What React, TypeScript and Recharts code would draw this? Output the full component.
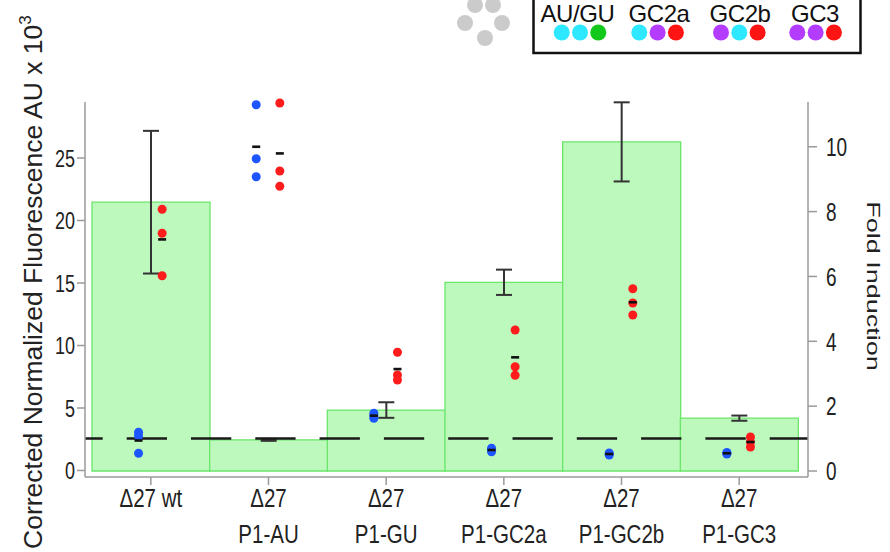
import React from "react";
import { ComposedChart, Bar, ErrorBar, Scatter, XAxis, YAxis, ReferenceLine } from "recharts";

const categories = ["Δ27 wt", "Δ27 P1-AU", "Δ27 P1-GU", "Δ27 P1-GC2a", "Δ27 P1-GC2b", "Δ27 P1-GC3"];
const tickLines = [
  ["Δ27 wt"],
  ["Δ27", "P1-AU"],
  ["Δ27", "P1-GU"],
  ["Δ27", "P1-GC2a"],
  ["Δ27", "P1-GC2b"],
  ["Δ27", "P1-GC3"],
];

// fold induction (right axis), bars + sd
const foldInduction = [8.29, 0.96, 1.88, 5.82, 10.15, 1.63];
const foldSd = [2.2, 0.03, 0.24, 0.39, 1.22, 0.08];

// replicate fluorescence, AU x 10^3 (left axis)
const bluePoints = [
  [3.06, 2.76, 1.38],
  [29.26, 24.94, 23.5],
  [4.58, 4.4, 4.18],
  [1.78, 1.64, 1.5],
  [1.4, 1.32, 1.24],
  [1.44, 1.38, 1.32],
];
const redPoints = [
  [20.9, 18.98, 15.58],
  [29.4, 23.96, 22.74],
  [9.46, 7.64, 7.24],
  [11.24, 8.3, 7.62],
  [14.54, 13.4, 12.44],
  [2.68, 2.28, 1.88],
];

const leftTicks = [0, 5, 10, 15, 20, 25];
const rightTicks = [0, 2, 4, 6, 8, 10];

const legendLabels = ["AU/GU", "GC2a", "GC2b", "GC3"];
const legendDots = [
  ["#2ee8ff", "#2ee8ff", "#12c81a"],
  ["#2ee8ff", "#b43cff", "#ff1414"],
  ["#b43cff", "#2ee8ff", "#ff1414"],
  ["#b43cff", "#b43cff", "#ff1414"],
];

const FONT = "'Liberation Sans', Arial, Helvetica, sans-serif";
const BLUE = "#1d55ff";
const RED = "#ff1c1c";

const mean = (a: number[]) => a.reduce((s, v) => s + v, 0) / a.length;

const data = categories.map((name, i) => ({
  name,
  fold: foldInduction[i],
  sd: foldSd[i],
  b0: bluePoints[i][0],
  b1: bluePoints[i][1],
  b2: bluePoints[i][2],
  r0: redPoints[i][0],
  r1: redPoints[i][1],
  r2: redPoints[i][2],
  bMean: mean(bluePoints[i]),
  rMean: mean(redPoints[i]),
}));

const dot = (dx: number, color: string) => (p: any) =>
  p.cx == null ? <g /> : <circle cx={p.cx + dx} cy={p.cy} r={4.5} fill={color} />;
const dash = (dx: number) => (p: any) =>
  p.cx == null ? <g /> : <rect x={p.cx + dx - 4} y={p.cy - 1.3} width={8} height={2.6} fill="#111" />;

// dashed baseline (fold = 1); always draw left -> right so the dash phase matches
const BaseLine = (p: any) => (
  <line x1={Math.min(p.x1, p.x2)} y1={p.y1} x2={Math.max(p.x1, p.x2)} y2={p.y2} stroke="#1a1a1a"
    strokeWidth={2.5} strokeDasharray="40.3 24" strokeDashoffset={22.6} />
);

function LeftTick({ x, y, payload }: any) {
  return (
    <text transform={`translate(${x},${y}) scale(1,1.35)`} textAnchor="end" dy="0.36em"
      fontSize={18} fill="#222" fontFamily={FONT}>
      {payload.value}
    </text>
  );
}

function RightTick({ x, y, payload }: any) {
  return (
    <text transform={`translate(${x},${y}) scale(1,1.35)`} textAnchor="start" dy="0.36em"
      fontSize={19} fill="#222" fontFamily={FONT}>
      {payload.value}
    </text>
  );
}

function XTick({ x, y, payload }: any) {
  const lines = tickLines[categories.indexOf(payload.value)] || [];
  return (
    <g>
      {lines.map((l, i) => (
        <text key={i} transform={`translate(${x},${y + 20 + i * 36}) scale(1,1.3)`} textAnchor="middle"
          fontSize={20.5} fill="#222" fontFamily={FONT}>
          {l}
        </text>
      ))}
    </g>
  );
}

const grayDots = [
  [475, 5],
  [493, 5],
  [465, 23],
  [502, 23],
  [485, 38],
];

export default function App() {
  const axisStyle = { stroke: "#9a9a9a", strokeWidth: 1.5 };
  return (
    <div style={{ position: "absolute", left: 0, top: 0, width: 890, height: 552, background: "#fff" }}>
      <ComposedChart width={890} height={552} data={data} barCategoryGap={0}
        margin={{ top: 102, right: 0, bottom: 0, left: 0 }}>
        <XAxis dataKey="name" padding={{ left: 7, right: 10 }} height={75} tickSize={8}
          axisLine={axisStyle} tickLine={axisStyle} tick={<XTick />} interval={0} />
        <YAxis yAxisId="left" orientation="left" width={85} domain={[-0.52, 29.48]} ticks={leftTicks}
          tickSize={8} tickMargin={2} axisLine={axisStyle} tickLine={axisStyle} tick={<LeftTick />} />
        <YAxis yAxisId="right" orientation="right" width={82} domain={[-0.185, 11.38]} ticks={rightTicks}
          tickSize={9} tickMargin={9} axisLine={axisStyle} tickLine={axisStyle} tick={<RightTick />} />
        <Bar dataKey="fold" yAxisId="right" fill="#bdf8bd" stroke="#6ae66a" strokeWidth={1.3}
          isAnimationActive={false}>
          <ErrorBar dataKey="sd" width={8} stroke="#333" strokeWidth={2} direction="y" />
        </Bar>
        <ReferenceLine yAxisId="right" y={1} shape={BaseLine} />
        <Scatter dataKey="b0" yAxisId="left" shape={dot(-12.3, BLUE)} isAnimationActive={false} />
        <Scatter dataKey="b1" yAxisId="left" shape={dot(-12.3, BLUE)} isAnimationActive={false} />
        <Scatter dataKey="b2" yAxisId="left" shape={dot(-12.3, BLUE)} isAnimationActive={false} />
        <Scatter dataKey="r0" yAxisId="left" shape={dot(11.3, RED)} isAnimationActive={false} />
        <Scatter dataKey="r1" yAxisId="left" shape={dot(11.3, RED)} isAnimationActive={false} />
        <Scatter dataKey="r2" yAxisId="left" shape={dot(11.3, RED)} isAnimationActive={false} />
        <Scatter dataKey="bMean" yAxisId="left" shape={dash(-12.3)} isAnimationActive={false} />
        <Scatter dataKey="rMean" yAxisId="left" shape={dash(11.3)} isAnimationActive={false} />
      </ComposedChart>

      <svg width={890} height={552} style={{ position: "absolute", left: 0, top: 0, pointerEvents: "none" }}>
        <text transform="translate(42,549) rotate(-90)" fontSize={26.5} fill="#222" fontFamily={FONT}>
          Corrected Normalized Fluorescence AU x 10
          <tspan dy={-11} fontSize={17}>3</tspan>
        </text>
        <text transform="translate(867,286) rotate(90) scale(1.5,1)" textAnchor="middle" fontSize={18}
          fill="#222" fontFamily={FONT}>
          Fold Induction
        </text>

        {grayDots.map(([cx, cy], i) => (
          <circle key={i} cx={cx} cy={cy} r={8} fill="#cbcbcb" />
        ))}

        <rect x={533.5} y={-6} width={327} height={59} fill="#fff" stroke="#111" strokeWidth={2.5} />
        {legendLabels.map((l, i) => {
          const centers = [577.5, 659, 740, 815];
          return (
            <text key={l} x={centers[i]} y={22} textAnchor="middle" fontSize={24} fill="#111"
              fontFamily={FONT} letterSpacing={-0.4}>
              {l}
            </text>
          );
        })}
        {legendDots.map((cols, g) => {
          const starts = [561.7, 639.3, 721, 797.3];
          return cols.map((c, k) => (
            <circle key={`${g}-${k}`} cx={starts[g] + k * 18.3} cy={32.5} r={8} fill={c} />
          ));
        })}
      </svg>
    </div>
  );
}
